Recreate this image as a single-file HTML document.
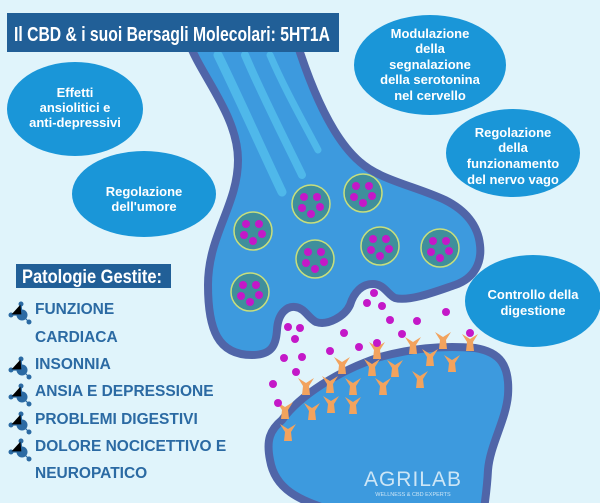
<!DOCTYPE html>
<html><head><meta charset="utf-8"><style>
html,body{margin:0;padding:0;background:#e0f4fb;}
svg{display:block;}
.b{font-family:"Liberation Sans",sans-serif;font-weight:bold;font-size:13px;fill:#fff;text-anchor:middle;}
.l{font-family:"Liberation Sans",sans-serif;font-weight:bold;font-size:15.5px;fill:#2b6aa3;}
.n{font-family:"Liberation Sans Narrow","Liberation Sans",sans-serif;font-weight:bold;fill:#fff;}
</style></head><body>
<svg width="600" height="503" viewBox="0 0 600 503" xmlns="http://www.w3.org/2000/svg">
<rect width="600" height="503" fill="#e0f4fb"/>
<defs>
<g id="r"><path d="M-8,-8 L-3,0 L-4,9 L4,9 L3,0 L8,-8 L0,-3 Z" fill="#f2a35e"/></g>
<g id="v"><circle r="19" fill="#3f8f9c" stroke="#c8df7c" stroke-width="1.5"/>
<circle cx="-7" cy="-7" r="4" fill="#c418c8"/><circle cx="6" cy="-7" r="4" fill="#c418c8"/>
<circle cx="-9" cy="4" r="4" fill="#c418c8"/><circle cx="9" cy="3" r="4" fill="#c418c8"/>
<circle cx="0" cy="10" r="4" fill="#c418c8"/></g>
<g id="ic"><circle cx="0" cy="0" r="5.5" fill="#2b6aa3"/><circle cx="-1" cy="-11" r="2.5" fill="#2b6aa3"/><circle cx="-11" cy="0" r="2.5" fill="#2b6aa3"/><circle cx="7" cy="7" r="2.5" fill="#2b6aa3"/><path d="M-1,-11 L0,0 L-11,0 M0,0 L7,7" stroke="#2b6aa3" stroke-width="1.2"/></g>
</defs>

<path d="M188,40 C200,75 238,115 238,160 C238,205 208,235 208,285 C208,330 218,355 252,355 C272,355 276,345 277,330 C278,312 288,306 295,307 C305,308 308,318 316,322 C328,326 345,316 350,305 C354,292 362,284 373,284 C384,284 388,295 395,298 C410,302 440,290 455,285 C475,278 482,262 480,245 C478,225 465,210 445,200 C415,186 380,180 360,162 C340,145 318,110 296,40 Z" fill="#3d9ade" stroke="#5065a8" stroke-width="8"/>
<g stroke="#4fb8ea" stroke-linecap="round" fill="none">
<path d="M218,55 C240,100 262,150 282,192" stroke-width="9"/>
<path d="M245,55 C262,95 285,140 302,175" stroke-width="8"/>
<path d="M270,55 C285,90 305,125 318,150" stroke-width="7"/>
</g>
<use href="#v" x="311" y="204"/><use href="#v" x="363" y="193"/><use href="#v" x="253" y="231"/>
<use href="#v" x="380" y="246"/><use href="#v" x="440" y="248"/><use href="#v" x="315" y="259"/><use href="#v" x="250" y="292"/>

<path d="M282,420 C300,395 340,370 380,357 C410,349 440,345 475,348 C500,352 510,365 508,395 C506,420 490,445 488,470 C487,490 485,500 484,510 L330,510 C300,500 275,490 270,460 C266,440 270,430 282,420 Z" fill="#3d9ade" stroke="#5065a8" stroke-width="8"/>

<g>
<use href="#r" x="377" y="350"/><use href="#r" x="413" y="345"/><use href="#r" x="443" y="340"/><use href="#r" x="470" y="342"/>
<use href="#r" x="342" y="365"/><use href="#r" x="372" y="367"/><use href="#r" x="395" y="368"/><use href="#r" x="430" y="357"/>
<use href="#r" x="452" y="363"/><use href="#r" x="420" y="379"/><use href="#r" x="306" y="386"/><use href="#r" x="330" y="384"/>
<use href="#r" x="353" y="386"/><use href="#r" x="383" y="386"/><use href="#r" x="285" y="410"/><use href="#r" x="312" y="411"/>
<use href="#r" x="331" y="404"/><use href="#r" x="353" y="405"/><use href="#r" x="288" y="432"/>
</g>
<g fill="#c418c8">
<circle cx="374" cy="293" r="4"/><circle cx="367" cy="303" r="4"/><circle cx="382" cy="306" r="4"/>
<circle cx="288" cy="327" r="4"/><circle cx="300" cy="328" r="4"/><circle cx="295" cy="339" r="4"/>
<circle cx="344" cy="333" r="4"/><circle cx="390" cy="320" r="4"/><circle cx="417" cy="321" r="4"/>
<circle cx="446" cy="312" r="4"/><circle cx="402" cy="334" r="4"/><circle cx="377" cy="343" r="4"/>
<circle cx="359" cy="347" r="4"/><circle cx="330" cy="351" r="4"/><circle cx="284" cy="358" r="4"/>
<circle cx="302" cy="357" r="4"/><circle cx="296" cy="372" r="4"/><circle cx="273" cy="384" r="4"/>
<circle cx="278" cy="403" r="4"/><circle cx="470" cy="333" r="4"/>
</g>
<text x="413" y="486" font-family="Liberation Sans,sans-serif" font-size="21" fill="#cde6f6" text-anchor="middle" letter-spacing="1">AGRILAB</text>
<text x="413" y="496" font-family="Liberation Sans,sans-serif" font-size="5.5" fill="#cde6f6" text-anchor="middle">WELLNESS &amp; CBD EXPERTS</text>

<rect x="7" y="13" width="332" height="39" fill="#215f97"/>
<text class="n" x="14" y="41" font-size="20" textLength="316" lengthAdjust="spacingAndGlyphs">Il CBD &amp; i suoi Bersagli Molecolari: 5HT1A</text>

<ellipse cx="75" cy="109" rx="68" ry="47" fill="#1a96d8"/>
<text class="b" x="75" y="97">Effetti</text><text class="b" x="75" y="112">ansiolitici e</text><text class="b" x="75" y="127">anti-depressivi</text>
<ellipse cx="144" cy="194" rx="72" ry="43" fill="#1a96d8"/>
<text class="b" x="144" y="196">Regolazione</text><text class="b" x="144" y="211">dell'umore</text>
<ellipse cx="430" cy="65" rx="76" ry="50" fill="#1a96d8"/>
<text class="b" x="430" y="38">Modulazione</text><text class="b" x="430" y="53">della</text><text class="b" x="430" y="69">segnalazione</text><text class="b" x="430" y="84">della serotonina</text><text class="b" x="430" y="100">nel cervello</text>
<ellipse cx="513" cy="153" rx="67" ry="44" fill="#1a96d8"/>
<text class="b" x="513" y="137">Regolazione</text><text class="b" x="513" y="152">della</text><text class="b" x="513" y="168">funzionamento</text><text class="b" x="513" y="184">del nervo vago</text>
<ellipse cx="533" cy="301" rx="68" ry="46" fill="#1a96d8"/>
<text class="b" x="533" y="299">Controllo della</text><text class="b" x="533" y="315">digestione</text>

<rect x="16" y="264" width="155" height="24" fill="#215f97"/>
<text class="n" x="22" y="283" font-size="19" textLength="140" lengthAdjust="spacingAndGlyphs">Patologie Gestite:</text>
<use href="#ic" x="22" y="315"/><text class="l" x="35" y="314">FUNZIONE</text>
<text class="l" x="35" y="342">CARDIACA</text>
<use href="#ic" x="22" y="370"/><text class="l" x="35" y="369">INSONNIA</text>
<use href="#ic" x="22" y="397"/><text class="l" x="35" y="396">ANSIA E DEPRESSIONE</text>
<use href="#ic" x="22" y="425"/><text class="l" x="35" y="424">PROBLEMI DIGESTIVI</text>
<use href="#ic" x="22" y="452"/><text class="l" x="35" y="451">DOLORE NOCICETTIVO E</text>
<text class="l" x="35" y="478">NEUROPATICO</text>
</svg>
</body></html>
